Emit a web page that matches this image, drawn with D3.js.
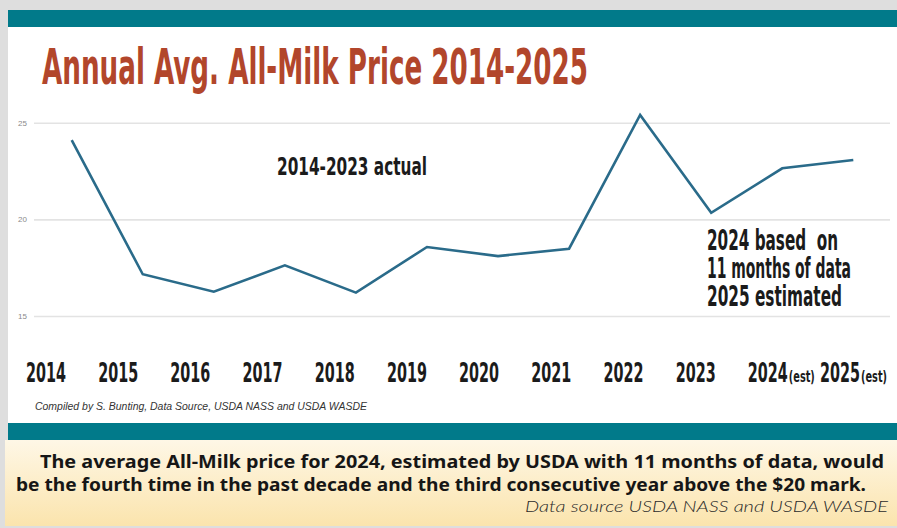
<!DOCTYPE html>
<html><head><meta charset="utf-8">
<script src="https://cdn.jsdelivr.net/npm/d3@7/dist/d3.min.js"></script>
<style>html,body{margin:0;padding:0;background:#fff;}svg{display:block;}</style>
</head><body>
<script>
// ---- data ----
const years = ["2014","2015","2016","2017","2018","2019","2020","2021","2022","2023","2024","2025"];
const prices = [24.1, 17.16, 16.26, 17.62, 16.21, 18.57, 18.1, 18.48, 25.4, 20.34, 22.64, 23.07];
const estimated = ["2024","2025"];
const yTicks = [15, 20, 25];
const titleText = "Annual Avg. All-Milk Price 2014-2025";
const noteActual = "2014-2023 actual";
const noteEst = ["2024 based  on", "11 months of data", "2025 estimated"];
const credit = "Compiled by S. Bunting, Data Source, USDA NASS and USDA WASDE";
const caption = ["The average All-Milk price for 2024, estimated by USDA with 11 months of data, would",
                 "be the fourth time in the past decade and the third consecutive year above the $20 mark."];
const sourceLine = "Data source USDA NASS and USDA WASDE";

const W = 897, H = 528;
const svg = d3.select("body").append("svg").attr("width", W).attr("height", H);
const defs = svg.append("defs");
const grad = defs.append("linearGradient").attr("id","cap").attr("x1",0).attr("y1",0).attr("x2",0).attr("y2",1);
grad.append("stop").attr("offset","0%").attr("stop-color","#fef7e6");
grad.append("stop").attr("offset","100%").attr("stop-color","#fbe4ad");

// frame
svg.append("rect").attr("x",0).attr("y",0).attr("width",W).attr("height",440).attr("fill","#dedede");
svg.append("rect").attr("x",8).attr("y",10).attr("width",W-8).attr("height",17).attr("fill","#017a8a");
svg.append("rect").attr("x",8).attr("y",27).attr("width",W-8).attr("height",396).attr("fill","#ffffff");
svg.append("rect").attr("x",8).attr("y",423).attr("width",W-8).attr("height",17).attr("fill","#017a8a");
svg.append("rect").attr("x",0).attr("y",440).attr("width",W).attr("height",88).attr("fill","#dedede");
svg.append("rect").attr("x",5).attr("y",440).attr("width",W-5).attr("height",86).attr("fill","url(#cap)");

const condensed = "'Liberation Sans Narrow','DejaVu Sans Condensed','Roboto Condensed',Roboto,'Liberation Sans',sans-serif";

// title
svg.append("text").attr("x",42).attr("y",84).text(titleText)
  .attr("font-family",condensed).attr("font-weight","bold").attr("font-size",49)
  .attr("fill","#b2462b").attr("textLength",546).attr("lengthAdjust","spacingAndGlyphs");

// scales
const x = d3.scalePoint().domain(years).range([71.7, 853.3]);
const y = d3.scaleLinear().domain([15, 25]).range([316, 122.7]);
const xl = d3.scalePoint().domain(years).range([46, 840]);

// gridlines + y labels
const gAxis = svg.append("g").attr("transform","translate(34,0)")
  .call(d3.axisLeft(y).tickValues(yTicks).tickSize(-(890-34)).tickPadding(7).tickFormat(d3.format("d")));
gAxis.select(".domain").remove();
gAxis.selectAll(".tick line").attr("stroke","#e3e3e3").attr("stroke-width",1.6);
gAxis.selectAll(".tick text").attr("fill","#8a8a8a").attr("font-size",8).attr("font-family","'Liberation Sans',sans-serif");

// line
const line = d3.line().x((d,i)=>x(years[i])).y(d=>y(d));
svg.append("path").datum(prices).attr("d",line).attr("fill","none")
  .attr("stroke","#2a6b8a").attr("stroke-width",2.6).attr("stroke-linejoin","miter");

// x labels
const gx = svg.append("g");
gx.selectAll("text.yr").data(years).join("text").attr("class","yr")
  .attr("x",d=>xl(d)).attr("y",381.5).attr("text-anchor","middle").text(d=>d)
  .attr("font-family",condensed).attr("font-weight","bold").attr("font-size",27).attr("fill","#1b1b1b")
  .attr("textLength",40).attr("lengthAdjust","spacingAndGlyphs");
gx.selectAll("text.est").data(estimated).join("text").attr("class","est")
  .attr("x",d=>xl(d)+21).attr("y",381.5).text("(est)")
  .attr("font-family",condensed).attr("font-weight","bold").attr("font-size",15).attr("fill","#1b1b1b")
  .attr("textLength",26).attr("lengthAdjust","spacingAndGlyphs");

// annotations
svg.append("text").attr("x",277).attr("y",175).text(noteActual)
  .attr("font-family",condensed).attr("font-weight","bold").attr("font-size",25).attr("fill","#1b1b1b")
  .attr("textLength",150).attr("lengthAdjust","spacingAndGlyphs");
const estLens = [131, 144, 135];
svg.append("g").selectAll("text").data(noteEst).join("text")
  .attr("x",707).attr("y",(d,i)=>250+i*28).text(d=>d)
  .attr("font-family",condensed).attr("font-weight","bold").attr("font-size",28).attr("fill","#1b1b1b")
  .attr("textLength",(d,i)=>estLens[i]).attr("lengthAdjust","spacingAndGlyphs")
  .attr("xml:space","preserve");

// credit
svg.append("text").attr("x",35).attr("y",410).text(credit)
  .attr("font-family","'Liberation Sans',Arial,sans-serif").attr("font-style","italic").attr("font-size",10.5)
  .attr("fill","#333").attr("textLength",332).attr("lengthAdjust","spacingAndGlyphs");

// caption
const capX = [40, 16], capLen = [844, 850];
svg.append("g").selectAll("text").data(caption).join("text")
  .attr("x",(d,i)=>capX[i]).attr("y",(d,i)=>468+i*23).text(d=>d)
  .attr("font-family","'Noto Sans',Lato,sans-serif").attr("font-weight","bold").attr("font-size",18)
  .attr("fill","#161616").attr("textLength",(d,i)=>capLen[i]).attr("lengthAdjust","spacingAndGlyphs");
svg.append("text").attr("x",888).attr("y",512).attr("text-anchor","end").text(sourceLine)
  .attr("font-family","Lato,'Noto Sans',sans-serif").attr("font-style","italic").attr("font-weight",300)
  .attr("font-size",16).attr("fill","#2a2a2a").attr("textLength",363).attr("lengthAdjust","spacingAndGlyphs");
</script>
</body></html>
